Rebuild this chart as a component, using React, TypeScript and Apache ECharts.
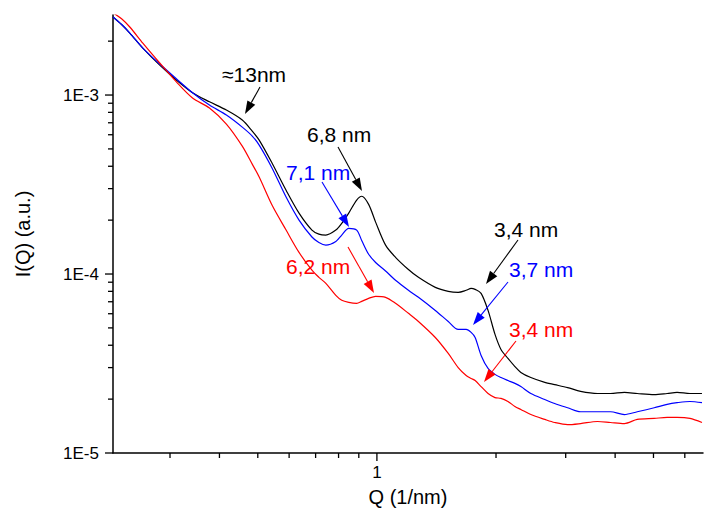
import React, { useEffect, useRef } from "react";
import * as echarts from "echarts";

// Q values (1/nm)
const qValues = [
  0.2153, 0.2267, 0.2374, 0.2561, 0.2826, 0.3117, 0.342, 0.3774, 0.4165, 0.4568,
  0.4841, 0.5041, 0.5435, 0.5895, 0.6356, 0.6852, 0.7135, 0.743, 0.7874, 0.815,
  0.8488, 0.889, 0.9153, 0.953, 0.9925, 1.0517, 1.1144, 1.2013, 1.2734, 1.4048,
  1.5147, 1.6048, 1.681, 1.7304, 1.7711, 1.8337, 1.9094, 1.9883, 2.0586, 2.1439,
  2.2326, 2.3111, 2.4491, 2.6563, 2.8138, 3.0339, 3.2719, 3.6101, 3.8928, 4.2207,
  4.5499, 5.0211, 5.4136, 5.7358, 6.183, 6.6298,
];

const iBlack = [
  2.73e-3, 2.47e-3, 2.22e-3, 1.83e-3, 1.47e-3, 1.21e-3, 1.03e-3, 9.17e-4, 8.24e-4, 7.25e-4,
  6.29e-4, 5.6e-4, 4.16e-4, 2.94e-4, 2.19e-4, 1.76e-4, 1.67e-4, 1.65e-4, 1.76e-4, 1.92e-4,
  2.19e-4, 2.59e-4, 2.72e-4, 2.45e-4, 1.95e-4, 1.45e-4, 1.24e-4, 1.06e-4, 9.58e-5, 8.42e-5,
  8.0e-5, 7.9e-5, 8.11e-5, 8.32e-5, 8.21e-5, 7.8e-5, 6.26e-5, 4.6e-5, 3.79e-5, 3.38e-5,
  3.04e-5, 2.82e-5, 2.64e-5, 2.48e-5, 2.41e-5, 2.32e-5, 2.21e-5, 2.15e-5, 2.15e-5, 2.18e-5,
  2.15e-5, 2.12e-5, 2.15e-5, 2.18e-5, 2.15e-5, 2.15e-5,
];

const iBlue = [
  2.73e-3, 2.47e-3, 2.22e-3, 1.83e-3, 1.49e-3, 1.23e-3, 1.03e-3, 8.79e-4, 7.73e-4, 6.62e-4,
  5.9e-4, 5.25e-4, 3.9e-4, 2.69e-4, 2.0e-4, 1.61e-4, 1.5e-4, 1.45e-4, 1.52e-4, 1.65e-4,
  1.8e-4, 1.76e-4, 1.54e-4, 1.29e-4, 1.16e-4, 1.04e-4, 9.22e-5, 8.11e-5, 7.41e-5, 6.26e-5,
  5.43e-5, 4.9e-5, 4.9e-5, 4.72e-5, 4.42e-5, 3.51e-5, 2.97e-5, 2.75e-5, 2.64e-5, 2.54e-5,
  2.45e-5, 2.35e-5, 2.15e-5, 1.99e-5, 1.89e-5, 1.79e-5, 1.7e-5, 1.7e-5, 1.7e-5, 1.64e-5,
  1.7e-5, 1.79e-5, 1.87e-5, 1.91e-5, 1.94e-5, 1.91e-5,
];

const iRed = [
  2.88e-3, 2.66e-3, 2.4e-3, 1.95e-3, 1.51e-3, 1.18e-3, 9.62e-4, 8.46e-4, 6.88e-4, 5.18e-4,
  4.11e-4, 3.48e-4, 2.42e-4, 1.76e-4, 1.32e-4, 1.05e-4, 9.58e-5, 8.87e-5, 7.6e-5, 7.13e-5,
  6.94e-5, 6.86e-5, 7.03e-5, 7.31e-5, 7.5e-5, 7.41e-5, 6.86e-5, 6.03e-5, 5.43e-5, 4.42e-5,
  3.6e-5, 3.0e-5, 2.71e-5, 2.61e-5, 2.54e-5, 2.35e-5, 2.15e-5, 2.04e-5, 2.02e-5, 1.94e-5,
  1.82e-5, 1.75e-5, 1.64e-5, 1.54e-5, 1.48e-5, 1.44e-5, 1.46e-5, 1.5e-5, 1.48e-5, 1.46e-5,
  1.54e-5, 1.56e-5, 1.58e-5, 1.58e-5, 1.56e-5, 1.48e-5,
];

// Tick positions
const xMinorTicks = [0.3, 0.4, 0.5, 0.6, 0.7, 0.8, 0.9, 2, 3, 4, 5, 6];
const xMajorTicks = [1];
const yMinorTicks = [
  2e-5, 3e-5, 4e-5, 5e-5, 6e-5, 7e-5, 8e-5, 9e-5,
  2e-4, 3e-4, 4e-4, 5e-4, 6e-4, 7e-4, 8e-4, 9e-4,
  2e-3,
];
const yMajorTicks = [1e-5, 1e-4, 1e-3];

const X_MIN = 0.2153;
const X_MAX = 6.67;
const Y_MIN = 1e-5;
const Y_MAX = 2.8e-3;

const FONT = "'Liberation Sans', Arial, sans-serif";

// Annotation labels and arrows (pixel positions)
const annotations = [
  { text: "\u224813nm", color: "#000000", tx: 222, ty: 74, x1: 260, y1: 87, x2: 245, y2: 114 },
  { text: "6,8 nm", color: "#000000", tx: 307, ty: 134, x1: 338, y1: 147, x2: 362, y2: 191 },
  { text: "7,1 nm", color: "#0000ff", tx: 286, ty: 172, x1: 322, y1: 182, x2: 349, y2: 227 },
  { text: "6,2 nm", color: "#ff0000", tx: 286, ty: 266, x1: 348, y1: 247, x2: 374, y2: 293 },
  { text: "3,4 nm", color: "#000000", tx: 494, ty: 229, x1: 518, y1: 240, x2: 486, y2: 284 },
  { text: "3,7 nm", color: "#0000ff", tx: 509, ty: 269, x1: 508, y1: 282, x2: 473, y2: 325 },
  { text: "3,4 nm", color: "#ff0000", tx: 509, ty: 329, x1: 516, y1: 341, x2: 484, y2: 382 },
];

function buildAnnotationGraphics() {
  const els: any[] = [];
  annotations.forEach((a) => {
    els.push({
      type: "text",
      x: a.tx,
      y: a.ty,
      style: {
        text: a.text,
        fill: a.color,
        font: `21px ${FONT}`,
        textAlign: "left",
        textVerticalAlign: "middle",
      },
      z: 100,
    });
    const dx = a.x2 - a.x1;
    const dy = a.y2 - a.y1;
    const len = Math.sqrt(dx * dx + dy * dy);
    const ux = dx / len;
    const uy = dy / len;
    const headL = 13;
    const headW = 4.5;
    const bx = a.x2 - ux * headL;
    const by = a.y2 - uy * headL;
    els.push({
      type: "line",
      shape: { x1: a.x1, y1: a.y1, x2: bx, y2: by },
      style: { stroke: a.color, lineWidth: 1.1 },
      z: 100,
    });
    els.push({
      type: "polygon",
      shape: {
        points: [
          [a.x2, a.y2],
          [bx - uy * headW, by + ux * headW],
          [bx + uy * headW, by - ux * headW],
        ],
      },
      style: { fill: a.color },
      z: 100,
    });
  });
  return els;
}

function isPow10(v: number) {
  const l = Math.log10(v);
  return Math.abs(l - Math.round(l)) < 1e-6;
}

export default function App() {
  const ref = useRef<HTMLDivElement>(null);

  useEffect(() => {
    if (!ref.current) return;
    const chart = echarts.init(ref.current, undefined, { renderer: "svg" });

    const tickData: any[] = [];
    xMinorTicks.forEach((v) => tickData.push([v, Y_MIN, 0, 0]));
    xMajorTicks.forEach((v) => tickData.push([v, Y_MIN, 0, 1]));
    yMinorTicks.forEach((v) => tickData.push([X_MIN, v, 1, 0]));
    yMajorTicks.forEach((v) => tickData.push([X_MIN, v, 1, 1]));

    const mkLine = (name: string, color: string, vals: number[]) => ({
      name,
      type: "line",
      data: qValues.map((q, i) => [q, vals[i]]),
      showSymbol: false,
      smooth: 0.3,
      lineStyle: { color, width: 1.2 },
      itemStyle: { color },
      z: 3,
    });

    chart.setOption({
      animation: false,
      backgroundColor: "#ffffff",
      grid: { left: 113, right: 0, top: 15, bottom: 67, containLabel: false },
      xAxis: {
        type: "log",
        logBase: 10,
        min: X_MIN,
        max: X_MAX,
        name: "Q (1/nm)",
        nameLocation: "middle",
        nameGap: 34,
        nameTextStyle: { fontFamily: FONT, fontSize: 20, color: "#000" },
        axisLine: { show: true, lineStyle: { color: "#000", width: 1.5 } },
        axisTick: { show: false },
        splitLine: { show: false },
        minorTick: { show: false },
        axisLabel: {
          margin: 11,
          fontFamily: FONT,
          fontSize: 17,
          color: "#000",
          showMinLabel: true,
          showMaxLabel: true,
          formatter: (v: number) => (isPow10(v) ? String(Math.round(v * 1000) / 1000) : ""),
        },
      },
      yAxis: {
        type: "log",
        logBase: 10,
        min: Y_MIN,
        max: Y_MAX,
        name: "I(Q) (a.u.)",
        nameLocation: "middle",
        nameRotate: 90,
        nameGap: 80,
        nameTextStyle: { fontFamily: FONT, fontSize: 20, color: "#000" },
        axisLine: { show: true, lineStyle: { color: "#000", width: 1.5 } },
        axisTick: { show: false },
        splitLine: { show: false },
        minorTick: { show: false },
        axisLabel: {
          margin: 14,
          fontFamily: FONT,
          fontSize: 17,
          color: "#000",
          formatter: (v: number) => (isPow10(v) ? "1E" + Math.round(Math.log10(v)) : ""),
        },
      },
      graphic: buildAnnotationGraphics(),
      series: [
        mkLine("black", "#000000", iBlack),
        mkLine("blue", "#0000ff", iBlue),
        mkLine("red", "#ff0000", iRed),
        {
          type: "custom",
          coordinateSystem: "cartesian2d",
          clip: false,
          silent: true,
          data: tickData,
          encode: { x: 0, y: 1 },
          z: 5,
          renderItem: (params: any, api: any) => {
            const p = api.coord([api.value(0), api.value(1)]);
            const kind = api.value(2);
            const len = api.value(3) ? 8 : 5;
            const shape =
              kind === 0
                ? { x1: p[0], y1: p[1], x2: p[0], y2: p[1] + len }
                : { x1: p[0] - len, y1: p[1], x2: p[0], y2: p[1] };
            return { type: "line", shape, style: { stroke: "#000", lineWidth: 1.3 } };
          },
        },
      ],
    });

    return () => chart.dispose();
  }, []);

  return (
    <div
      ref={ref}
      style={{ position: "fixed", left: 0, top: 0, width: 706, height: 520, background: "#fff" }}
    />
  );
}
